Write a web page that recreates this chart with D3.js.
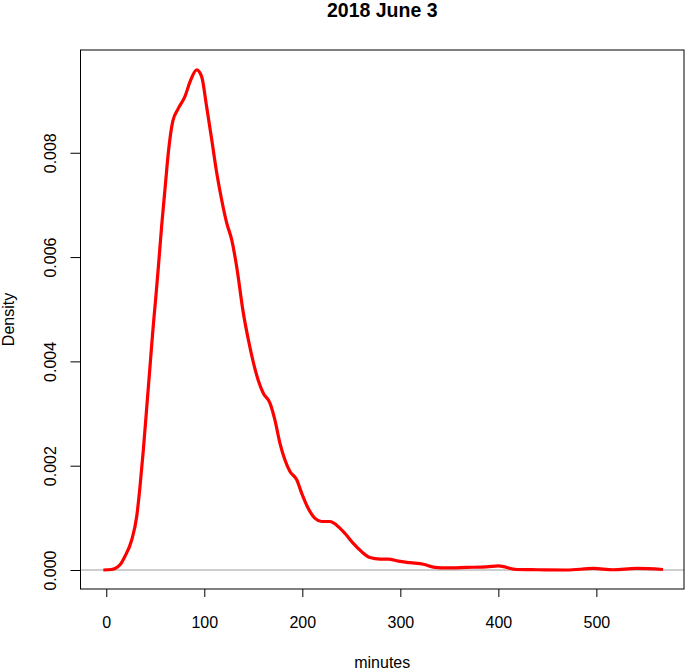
<!DOCTYPE html>
<html>
<head>
<meta charset="utf-8">
<script src="https://cdn.jsdelivr.net/npm/d3@7"></script>
<style>
  html, body { margin: 0; padding: 0; background: #fff; }
  svg { display: block; }
  text { font-family: "Liberation Sans", Arial, Helvetica, sans-serif; }
</style>
</head>
<body>
<script>
// ---- data ----
const title = "2018 June 3";
const xLabel = "minutes";
const yLabel = "Density";
const minutes = [-3, 5, 9, 14, 19, 26, 31, 34.4, 37.8, 41.2, 44.6, 48, 50.4, 53.1, 56.5, 59.9, 63.3, 67.8, 73.5, 80.3, 85.4, 92.2, 97.3, 102.4, 107.6, 112.7, 117.8, 122.9, 128, 133, 139.8, 145, 155, 160.2, 167, 172, 177.2, 182.3, 187.4, 194.3, 199.4, 206.1, 213, 219.8, 228.3, 235, 243.6, 252, 260.6, 269, 279.3, 287.8, 298, 310, 323.5, 335.4, 347.3, 367.8, 388, 400, 418.8, 440, 470, 497, 517, 541, 568];
const density = [0, 0.00001, 0.00003, 0.0001, 0.00026, 0.00058, 0.00102, 0.0016, 0.0023, 0.0031, 0.0039, 0.0047, 0.0052, 0.0058, 0.0066, 0.0073, 0.0080, 0.0086, 0.00885, 0.00908, 0.00936, 0.00959, 0.00946, 0.00888, 0.00825, 0.00761, 0.00709, 0.00665, 0.00633, 0.00582, 0.00493, 0.00441, 0.00364, 0.00339, 0.0032, 0.00288, 0.00243, 0.00211, 0.00189, 0.00173, 0.00147, 0.00118, 0.00099, 0.00093, 0.00093, 0.00086, 0.0007, 0.00051, 0.00035, 0.00024, 0.00021, 0.00021, 0.00017, 0.00014, 0.00011, 0.00005, 0.00004, 0.00005, 0.00006, 0.00008, 0.00001, 0.000005, 0, 0.00003, 0.000005, 0.00003, 0.00001];
const xTicks = [0, 100, 200, 300, 400, 500];
const yTicks = [0, 0.002, 0.004, 0.006, 0.008];

// ---- layout ----
const W = 685, H = 671;
const box = {left: 80.5, right: 684, top: 50, bottom: 589};

const x = d3.scaleLinear().domain([-26.3, 589.4]).range([box.left, box.right]);
const y = d3.scaleLinear().domain([-0.000364, 0.00997]).range([box.bottom, box.top]);

const svg = d3.select("body").append("svg").attr("width", W).attr("height", H);

// title
svg.append("text")
  .attr("x", (box.left + box.right) / 2).attr("y", 17)
  .attr("text-anchor", "middle")
  .attr("font-size", 19.5).attr("font-weight", "bold")
  .text(title);

// zero reference line
svg.append("line")
  .attr("x1", box.left).attr("x2", box.right)
  .attr("y1", y(0)).attr("y2", y(0))
  .attr("stroke", "#bebebe").attr("stroke-width", 1.5);

// density curve
const line = d3.line()
  .x((d, i) => x(minutes[i]))
  .y((d, i) => y(density[i]))
  .curve(d3.curveMonotoneX);
svg.append("path")
  .datum(density)
  .attr("d", line)
  .attr("fill", "none")
  .attr("stroke", "#ff0000")
  .attr("stroke-width", 3.2)
  .attr("stroke-linejoin", "round");

// plot box
svg.append("rect")
  .attr("x", box.left).attr("y", box.top)
  .attr("width", box.right - box.left).attr("height", box.bottom - box.top)
  .attr("fill", "none").attr("stroke", "#000").attr("stroke-width", 1);

// x axis
const xAxis = d3.axisBottom(x).tickValues(xTicks).tickSize(8).tickPadding(20).tickFormat(d3.format("d"));
const gx = svg.append("g").attr("transform", `translate(0,${box.bottom})`).call(xAxis);
gx.select(".domain").remove();
gx.selectAll("text").attr("font-size", 16).attr("font-family", "Liberation Sans, Arial, sans-serif").attr("fill", "#000");
gx.selectAll("line").attr("stroke", "#000");

// y axis
const yAxis = d3.axisLeft(y).tickValues(yTicks).tickSize(10).tickFormat(d3.format(".3f"));
const gy = svg.append("g").attr("transform", `translate(${box.left},0)`).call(yAxis);
gy.select(".domain").attr("d", `M0,${y(yTicks[0])}V${y(yTicks[yTicks.length - 1])}`).attr("stroke", "#000");
gy.selectAll("line").attr("stroke", "#000");
gy.selectAll(".tick text")
  .attr("font-size", 16).attr("font-family", "Liberation Sans, Arial, sans-serif").attr("fill", "#000")
  .attr("x", null).attr("dy", null)
  .attr("text-anchor", "middle")
  .attr("transform", "translate(-25,0) rotate(-90)");

// axis titles
svg.append("text")
  .attr("x", (box.left + box.right) / 2).attr("y", 668)
  .attr("text-anchor", "middle").attr("font-size", 16)
  .text(xLabel);
svg.append("text")
  .attr("transform", `translate(14,${(box.top + box.bottom) / 2}) rotate(-90)`)
  .attr("text-anchor", "middle").attr("font-size", 16)
  .text(yLabel);
</script>
</body>
</html>
